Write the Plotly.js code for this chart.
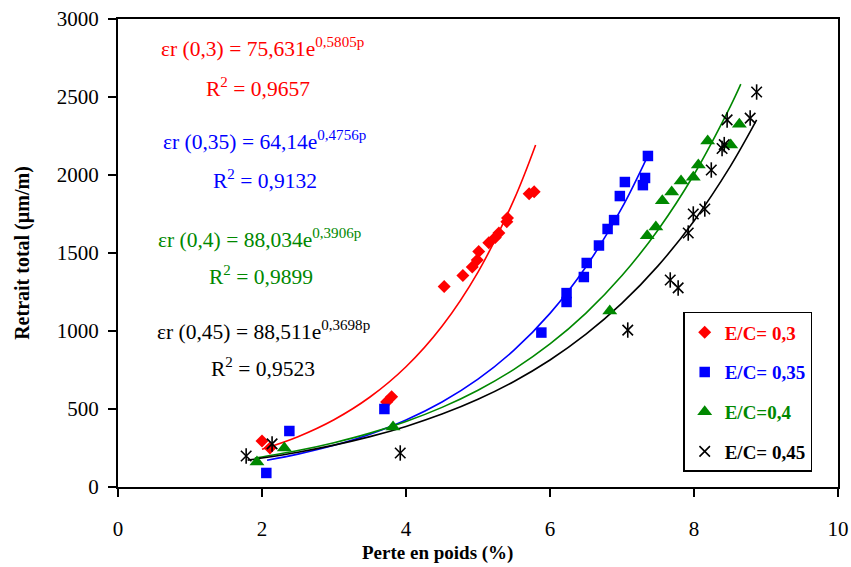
<!DOCTYPE html>
<html>
<head>
<meta charset="utf-8">
<script src="https://cdn.plot.ly/plotly-3.0.1.min.js"></script>
<style>html,body{margin:0;padding:0;background:#fff;}#chart{width:851px;height:567px;}</style>
</head>
<body>
<div id="chart"></div>
<script>
// Measured points
const red_x = [2.0, 2.11, 3.73, 3.8, 4.53, 4.79, 4.92, 4.99, 5.01, 5.15, 5.24, 5.29, 5.40, 5.41, 5.71, 5.78];
const red_y = [295, 250, 545, 578, 1285, 1355, 1410, 1455, 1510, 1565, 1600, 1628, 1700, 1725, 1880, 1892];
const blue_x = [2.06, 2.38, 3.70, 5.88, 6.23, 6.23, 6.47, 6.51, 6.68, 6.80, 6.89, 6.97, 7.04, 7.29, 7.32, 7.36];
const blue_y = [90, 359, 500, 990, 1186, 1243, 1346, 1436, 1548, 1654, 1711, 1865, 1955, 1935, 1981, 2122];
const green_x = [1.93, 2.31, 3.82, 6.83, 7.35, 7.47, 7.56, 7.69, 7.82, 7.99, 8.06, 8.19, 8.51, 8.63];
const green_y = [160, 250, 385, 1128, 1610, 1667, 1835, 1891, 1962, 1985, 2064, 2218, 2192, 2325];
const black_x = [1.78, 2.14, 3.92, 7.08, 7.67, 7.78, 7.92, 7.99, 8.15, 8.24, 8.39, 8.42, 8.46, 8.78, 8.87];
const black_y = [199, 276, 218, 1006, 1327, 1276, 1628, 1750, 1782, 2032, 2170, 2195, 2353, 2365, 2532];

// Trend curves
const red_tx = [2.0, 2.5, 3.0, 3.5, 4.0, 4.5, 5.0, 5.5, 5.8];
const red_ty = [241.5, 322.8, 431.5, 576.9, 771.1, 1030.8, 1378.0, 1842.0, 2192.4];
const blue_tx = [2.07, 2.5, 3.0, 3.5, 4.0, 4.5, 5.0, 5.5, 6.0, 6.5, 7.0, 7.35];
const blue_ty = [171.7, 210.6, 267.2, 338.9, 429.9, 545.3, 691.6, 877.3, 1112.8, 1411.6, 1790.5, 2114.8];
const green_tx = [1.9, 2.5, 3.0, 3.5, 4.0, 4.5, 5.0, 5.5, 6.0, 6.5, 7.0, 7.5, 8.0, 8.5, 8.65];
const green_ty = [184.9, 233.7, 284.2, 345.4, 420.0, 510.5, 620.6, 754.5, 917.2, 1115.0, 1355.5, 1647.8, 2003.3, 2435.3, 2582.3];
const black_tx = [1.8, 2.0, 2.5, 3.0, 3.5, 4.0, 4.5, 5.0, 5.5, 6.0, 6.5, 7.0, 7.5, 8.0, 8.5, 8.87];
const black_ty = [172.2, 185.4, 223.1, 268.4, 322.9, 388.5, 467.4, 562.3, 676.6, 814.0, 979.3, 1178.2, 1417.5, 1705.4, 2051.7, 2352.6];

const series_names = ['E/C= 0,3', 'E/C= 0,35', 'E/C=0,4', 'E/C= 0,45'];
const equations = ['εr (0,3) = 75,631e<sup>0,5805p</sup>', 'εr (0,35) = 64,14e<sup>0,4756p</sup>', 'εr (0,4) = 88,034e<sup>0,3906p</sup>', 'εr (0,45) = 88,511e<sup>0,3698p</sup>'];
const r2_labels = ['R<sup>2</sup> = 0,9657', 'R<sup>2</sup> = 0,9132', 'R<sup>2</sup> = 0,9899', 'R<sup>2</sup> = 0,9523'];

const RED = '#FF0000', BLUE = '#0000FF', GREEN = '#008800', BLACK = '#000000';
const FONT = "'Liberation Serif', 'Times New Roman', serif";

function trend(x, y, c) {
  return {x: x, y: y, type: 'scatter', mode: 'lines', line: {color: c, width: 1.6, shape: 'spline'}, showlegend: false, hoverinfo: 'skip'};
}
function lname(n, c) { return '<span style="color:' + c + '"><b>' + n + '</b></span>'; }

const data = [
  trend(red_tx, red_ty, RED),
  trend(blue_tx, blue_ty, BLUE),
  trend(green_tx, green_ty, GREEN),
  trend(black_tx, black_ty, BLACK),
  {x: red_x, y: red_y, type: 'scatter', mode: 'markers', name: lname(series_names[0], RED), legendgroup: 'g1',
   marker: {symbol: 'diamond', size: 10, color: RED}},
  {x: blue_x, y: blue_y, type: 'scatter', mode: 'markers', name: lname(series_names[1], BLUE), legendgroup: 'g2',
   marker: {symbol: 'square', size: 10.5, color: BLUE}},
  {x: green_x, y: green_y, type: 'scatter', mode: 'markers', name: lname(series_names[2], GREEN), legendgroup: 'g3',
   marker: {symbol: 'triangle-up', size: 13, color: GREEN}},
  {x: black_x, y: black_y, type: 'scatter', mode: 'markers', name: lname(series_names[3], BLACK), legendgroup: 'g4',
   marker: {symbol: 'x-thin-open', size: 10.5, color: BLACK, line: {color: BLACK, width: 1.6}}},
  {x: black_x, y: black_y, type: 'scatter', mode: 'markers', showlegend: false, legendgroup: 'g4', hoverinfo: 'skip',
   marker: {symbol: 'line-ns-open', size: 11, color: BLACK, line: {color: BLACK, width: 1.6}}}
];

const eqPos = [[2.01, 2820], [2.03, 2224], [1.97, 1596], [2.02, 1006]];
const r2Pos = [[1.94, 2564], [2.04, 1968], [1.98, 1359], [2.02, 769]];
const colors = [RED, BLUE, GREEN, BLACK];
const annotations = [];
for (let i = 0; i < 4; i++) {
  annotations.push({x: eqPos[i][0], y: eqPos[i][1], xref: 'x', yref: 'y', text: equations[i], showarrow: false,
    font: {family: FONT, size: 21.5, color: colors[i]}, xanchor: 'center', yanchor: 'middle'});
  annotations.push({x: r2Pos[i][0], y: r2Pos[i][1], xref: 'x', yref: 'y', text: r2_labels[i], showarrow: false,
    font: {family: FONT, size: 21.5, color: colors[i]}, xanchor: 'center', yanchor: 'middle'});
}
annotations.push({x: (437 - 118) / 720, y: 0, xref: 'paper', yref: 'paper', yshift: -66, text: '<b>Perte en poids (%)</b>',
  showarrow: false, font: {family: FONT, size: 19, color: '#000'}, xanchor: 'center', yanchor: 'middle'});

const layout = {
  width: 851, height: 567,
  margin: {l: 118, r: 13, t: 19, b: 80},
  paper_bgcolor: '#fff', plot_bgcolor: '#fff',
  font: {family: FONT, size: 20, color: '#000'},
  showlegend: true,
  legend: {x: 0.785, y: 0.374, xanchor: 'left', yanchor: 'top', bordercolor: '#000', borderwidth: 1.5,
    bgcolor: '#fff', font: {family: FONT, size: 19}, tracegroupgap: 12, traceorder: 'grouped'},
  xaxis: {range: [0, 10], dtick: 2, tick0: 0, showgrid: false, zeroline: false, showline: true, linecolor: '#000', linewidth: 2,
    mirror: true, ticks: 'outside', ticklen: 8, tickwidth: 1.5, tickcolor: '#000', ticklabelstandoff: 14,
    tickfont: {family: FONT, size: 21, color: '#000'}},
  yaxis: {range: [0, 3000], dtick: 500, tick0: 0, showgrid: false, zeroline: false, showline: true, linecolor: '#000', linewidth: 2,
    mirror: true, ticks: 'outside', ticklen: 8, tickwidth: 1.5, tickcolor: '#000', ticklabelstandoff: 5,
    tickfont: {family: FONT, size: 21, color: '#000'},
    title: {text: '<b>Retrait total (µm/m)</b>', font: {family: FONT, size: 20, color: '#000'}, standoff: 22}},
  annotations: annotations
};

Plotly.newPlot('chart', data, layout, {displayModeBar: false, staticPlot: true});
</script>
</body>
</html>
